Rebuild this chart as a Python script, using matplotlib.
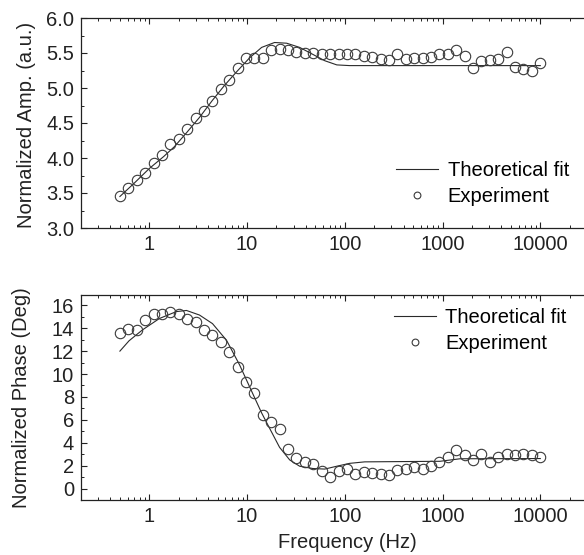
import matplotlib
matplotlib.use("Agg")
import matplotlib.pyplot as plt
from matplotlib.ticker import FixedLocator, LogLocator, NullFormatter, MultipleLocator

plt.rcParams["font.family"] = ["Liberation Sans", "DejaVu Sans"]

# Messfrequenzen (Hz)
frequenz = [0.500, 0.610, 0.743, 0.906, 1.104, 1.346, 1.641, 2.000, 2.438, 2.973,
            3.624, 4.418, 5.386, 6.566, 8.003, 9.757, 11.89, 14.50, 17.68, 21.54,
            26.27, 32.02, 39.04, 47.58, 58.00, 70.71, 86.20, 105.1, 128.1, 156.2,
            190.4, 232.1, 282.9, 344.9, 420.5, 512.6, 624.8, 761.7, 928.6, 1132,
            1380, 1682, 2051, 2500, 3048, 3715, 4529, 5521, 6730, 8204, 10000]

amp_experiment = [3.46, 3.57, 3.68, 3.79, 3.93, 4.05, 4.20, 4.27, 4.41, 4.57,
                  4.67, 4.82, 4.99, 5.11, 5.29, 5.43, 5.43, 5.43, 5.55, 5.56,
                  5.55, 5.52, 5.50, 5.50, 5.48, 5.48, 5.48, 5.48, 5.48, 5.46,
                  5.44, 5.41, 5.40, 5.48, 5.41, 5.43, 5.43, 5.45, 5.48, 5.48,
                  5.54, 5.46, 5.29, 5.38, 5.40, 5.41, 5.51, 5.30, 5.27, 5.24, 5.36]

phase_experiment = [13.58, 13.96, 13.88, 14.69, 15.27, 15.21, 15.42, 15.27, 14.84, 14.55,
                    13.82, 13.38, 12.80, 11.93, 10.62, 9.31, 8.35, 6.40, 5.82, 5.24,
                    3.49, 2.71, 2.33, 2.10, 1.50, 1.05, 1.50, 1.70, 1.30, 1.45,
                    1.33, 1.28, 1.20, 1.63, 1.70, 1.86, 1.75, 2.00, 2.33, 2.76,
                    3.38, 2.97, 2.53, 3.06, 2.33, 2.76, 3.06, 2.91, 3.06, 2.97, 2.79]

# Theoretische Anpassung
fit_freq_amp = [0.5, 0.7, 1.0, 1.4, 1.8, 2.4, 3.26, 4.4, 5.9, 7.8, 10.6, 14.1,
                19.1, 25.4, 34.5, 45.7, 62.3, 82.8, 112, 300, 1000, 10000]
fit_amp = [3.45, 3.64, 3.85, 4.02, 4.16, 4.36, 4.58, 4.82, 5.04, 5.23, 5.43, 5.58,
           5.65, 5.64, 5.58, 5.49, 5.39, 5.33, 5.32, 5.32, 5.32, 5.32]

fit_freq_phase = [0.5, 0.62, 0.85, 1.27, 1.89, 2.4, 3.26, 4.43, 6.16, 8.38, 11.7,
                  14.1, 17.4, 21.5, 27.3, 34.5, 47, 62.3, 82.8, 112, 160, 943, 1510, 10000]
fit_phase = [12.0, 12.9, 13.85, 14.85, 15.45, 15.55, 15.15, 14.4, 12.95, 10.8, 8.1,
             6.6, 5.1, 3.6, 2.5, 1.95, 1.75, 1.7, 1.95, 2.2, 2.33, 2.38, 2.6, 2.62]

x_ticks = [1, 10, 100, 1000, 10000]
x_tick_labels = ["1", "10", "100", "1000", "10000"]

linien_farbe = "#2a2a2a"
marker_farbe = "#3a3a3a"
schrift = 14.5


def achse_stil(ax):
    ax.set_xscale("log")
    ax.set_xlim(0.2, 28000)
    ax.spines["right"].set_visible(False)
    for s in ["left", "top", "bottom"]:
        ax.spines[s].set_linewidth(0.9)
        ax.spines[s].set_color("#222222")
    ax.xaxis.set_major_locator(FixedLocator(x_ticks))
    ax.set_xticklabels(x_tick_labels)
    ax.xaxis.set_minor_locator(LogLocator(base=10, subs=range(2, 10), numticks=20))
    ax.xaxis.set_minor_formatter(NullFormatter())
    ax.tick_params(which="both", direction="in", top=True, right=False,
                   labelsize=schrift, colors="#222222", pad=5)
    ax.tick_params(which="major", length=4.5, width=0.8)
    ax.tick_params(which="minor", length=2.5, width=0.7)


def plot_kurve(ax, freq_exp, werte_exp, freq_fit, werte_fit):
    linie = ax.plot(freq_fit, werte_fit, color=linien_farbe, linewidth=0.8,
                    label="Theoretical fit")
    punkte = ax.plot(freq_exp, werte_exp, linestyle="none", marker="o",
                     markersize=7.5, markerfacecolor="none",
                     markeredgecolor=marker_farbe, markeredgewidth=0.8,
                     label="Experiment")
    return linie + punkte


def legende(ax, handles, loc, anker):
    ax.legend(handles, [h.get_label() for h in handles], loc=loc,
              bbox_to_anchor=anker, frameon=False, fontsize=14.5,
              handlelength=2.1, handletextpad=0.45, markerscale=0.65,
              labelspacing=0.35, borderpad=0, borderaxespad=0)


fig = plt.figure(figsize=(5.84, 5.55), dpi=100)
ax1 = fig.add_axes([81 / 584, 1 - 228 / 555, 503 / 584, 210 / 555])
ax2 = fig.add_axes([81 / 584, 1 - 500 / 555, 503 / 584, 205 / 555])

# oben: Amplitude
achse_stil(ax1)
h1 = plot_kurve(ax1, frequenz, amp_experiment, fit_freq_amp, fit_amp)
ax1.set_ylim(3.0, 6.0)
ax1.yaxis.set_major_locator(MultipleLocator(0.5))
ax1.yaxis.set_minor_locator(MultipleLocator(0.25))
ax1.yaxis.set_major_formatter(matplotlib.ticker.FormatStrFormatter("%.1f"))
ax1.set_ylabel("Normalized Amp. (a.u.)", fontsize=14.5, color="#222222")
ax1.yaxis.set_label_coords(-0.09, 0.49)
legende(ax1, h1, "lower right", (0.97, 0.105))

# unten: Phase
achse_stil(ax2)
h2 = plot_kurve(ax2, frequenz, phase_experiment, fit_freq_phase, fit_phase)
ax2.set_ylim(-1.0, 16.9)
ax2.yaxis.set_major_locator(MultipleLocator(2))
ax2.yaxis.set_minor_locator(MultipleLocator(1))
ax2.set_ylabel("Normalized Phase (Deg)", fontsize=14.5, color="#222222")
ax2.yaxis.set_label_coords(-0.10, 0.5)
ax2.set_xlabel("Frequency (Hz)", fontsize=14.5, color="#222222")
ax2.xaxis.set_label_coords(0.529, -0.16)
legende(ax2, h2, "upper right", (0.965, 0.935))

fig.savefig("out.png", dpi=100)
